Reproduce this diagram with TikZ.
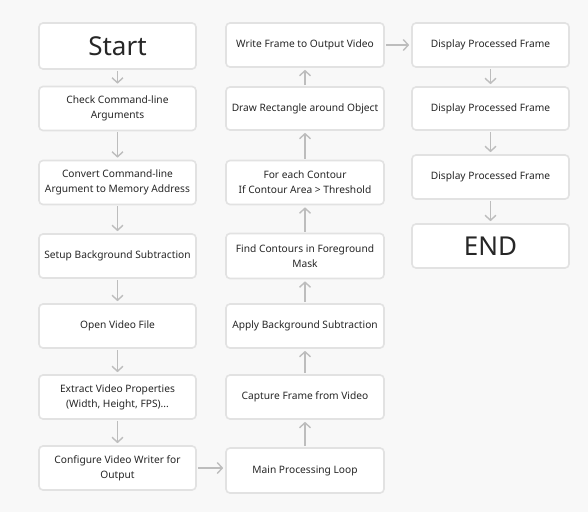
\documentclass[tikz,border=0pt]{standalone}
\usepackage{fontspec}
\setmainfont{Noto Sans}
\usetikzlibrary{arrows.meta}
\definecolor{bgc}{HTML}{F8F8F8}
\definecolor{bdc}{HTML}{E2E2E2}
\definecolor{arc}{HTML}{BDBDBD}
\definecolor{txc}{HTML}{262626}
\tikzset{
  box/.style={draw=bdc, line width=1.6pt, fill=white, rounded corners=4pt,
    minimum width=157pt, minimum height=44pt, inner sep=0pt, align=center,
    text=txc, font=\fontsize{10.2}{15}\selectfont},
  bigbox/.style={box, font=\fontsize{26}{30}\selectfont},
  conn/.style={draw=arc, line width=1.4pt, -{Straight Barb[length=5pt,width=11pt,line width=1.4pt]}, shorten >=2pt, shorten <=1pt},
}
\begin{document}
\begin{tikzpicture}[x=1pt,y=-1pt]
\fill[bgc] (0,0) rectangle (588,512);
\useasboundingbox (0,0) rectangle (588,512);
% column 1
\node[bigbox, minimum height=46pt] (start) at (117.5,46) {Start};
\node[box] (check) at (117.5,108.5) {Check Command-line\\Arguments};
\node[box] (convert) at (117.5,182.5) {Convert Command-line\\Argument to Memory Address};
\node[box] (setup) at (117.5,256) {Setup Background Subtraction};
\node[box] (open) at (117.5,326) {Open Video File};
\node[box] (extract) at (117.5,397) {Extract Video Properties\\(Width, Height, FPS)...};
\node[box] (config) at (117.5,468) {Configure Video Writer for\\Output};
% column 2
\node[box, minimum width=158pt, minimum height=45pt] (main) at (305,470.5) {Main Processing Loop};
\node[box, minimum width=158pt] (capture) at (305,397) {Capture Frame from Video};
\node[box, minimum width=158pt] (apply) at (305,326) {Apply Background Subtraction};
\node[box, minimum width=158pt, minimum height=45pt] (find) at (305,256) {Find Contours in Foreground\\Mask};
\node[box, minimum width=158pt] (foreach) at (305,182.5) {For each Contour\\If Contour Area > Threshold};
\node[box, minimum width=158pt, minimum height=43pt] (drawr) at (305,108.5) {Draw Rectangle around Object};
\node[box, minimum width=158pt] (write) at (305,45) {Write Frame to Output Video};
% column 3
\node[box] (d1) at (490.5,45) {Display Processed Frame};
\node[box, minimum height=43pt] (d2) at (490.5,108.5) {Display Processed Frame};
\node[box] (d3) at (490.5,177) {Display Processed Frame};
\node[bigbox] (endn) at (490.5,246) {END};
% connectors
\draw[conn] (start) -- (check);
\draw[conn] (check) -- (convert);
\draw[conn] (convert) -- (setup);
\draw[conn] (setup) -- (open);
\draw[conn] (open) -- (extract);
\draw[conn] (extract) -- (config);
\draw[conn] (config) -- (config -| main.west);
\draw[conn] (main) -- (capture);
\draw[conn] (capture) -- (apply);
\draw[conn] (apply) -- (find);
\draw[conn] (find) -- (foreach);
\draw[conn] (foreach) -- (drawr);
\draw[conn] (drawr) -- (write);
\draw[conn] (write) -- (d1);
\draw[conn] (d1) -- (d2);
\draw[conn] (d2) -- (d3);
\draw[conn] (d3) -- (endn);
\end{tikzpicture}
\end{document}
